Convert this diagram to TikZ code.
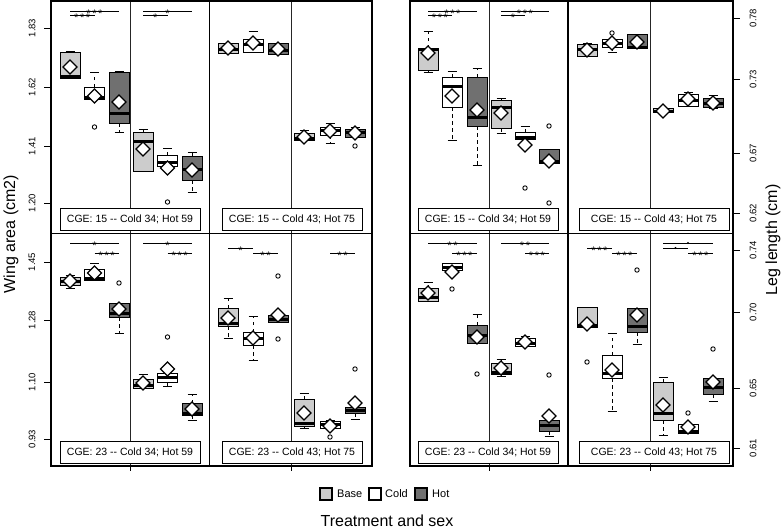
\documentclass[tikz,border=0pt]{standalone}
\usepackage{fontspec}
\setmainfont{Liberation Sans}
\definecolor{cbase}{RGB}{204,204,204}
\definecolor{chot}{RGB}{112,112,112}
\newcommand{\bx}[8]{%
  \draw[whisk] (#2,#4) -- (#2,#3);
  \draw[whisk] (#2,#6) -- (#2,#7);
  \draw[capl] (#2-4.5,#3) -- (#2+4.5,#3);
  \draw[capl] (#2-4.5,#7) -- (#2+4.5,#7);
  \draw[boxs,fill=#1] (#2-10,#4) rectangle (#2+10,#6);
  \draw[medl] (#2-10,#5) -- (#2+10,#5);
  \draw[diam] (#2,#8-7) -- (#2+7,#8) -- (#2,#8+7) -- (#2-7,#8) -- cycle;
}
\newcommand{\ol}[2]{\draw[outl] (#1,#2) circle (2.2);}
\newcommand{\sig}[4]{\draw[sigl] (#1,#3) -- (#2,#3); \node[stx] at ({(#1+#2)/2},#3+6.4) {#4};}
\newcommand{\sigd}[3]{\draw[sigl] (#1,#3) -- (#2,#3); \fill ({(#1+#2)/2},#3) circle (1.2);}
\newcommand{\sone}{*}
\newcommand{\stwo}{*\kern1.6pt*}
\newcommand{\sthree}{*\kern1.6pt*\kern1.6pt*}
\begin{document}
\begin{tikzpicture}[x=1pt,y=-1pt,
  blkframe/.style={line width=1.1pt},
  divl/.style={line width=0.6pt, black!85},
  whisk/.style={line width=0.8pt, dash pattern=on 3.5pt off 3.5pt},
  capl/.style={line width=0.9pt},
  boxs/.style={line width=0.7pt},
  medl/.style={line width=3pt},
  diam/.style={line width=1.2pt, fill=white, line join=miter},
  outl/.style={line width=0.9pt},
  sigl/.style={line width=0.6pt},
  stx/.style={font=\fontsize{11}{11}\selectfont, inner sep=0pt, anchor=base},
  cge/.style={draw, line width=0.7pt, fill=white},
  cgetxt/.style={font=\fontsize{10.5}{12}\selectfont, inner sep=0pt},
  tkl/.style={font=\fontsize{9.5}{11}\selectfont, inner sep=0pt, rotate=90},
  tk/.style={line width=0.8pt},
  axt/.style={font=\fontsize{16}{18}\selectfont, inner sep=0pt},
  lgs/.style={draw, line width=1.1pt},
  lgt/.style={font=\fontsize{11}{13}\selectfont, inner sep=0pt, anchor=west}]
\useasboundingbox (0,0) rectangle (783,530);

% ---- dividers
\foreach \xx in {130,291,489,650} {
  \draw[divl] (\xx,1) -- (\xx,466);
  \draw[tk] (\xx,466) -- (\xx,471);
}

% ---- CGE legend boxes
\draw[cge] (60,208) rectangle (200,230);
\node[cgetxt] (c1) at (130,219) {CGE: 15 -{}- Cold 34; Hot 59};
\draw[cge] (222,208) rectangle (362,230);
\node[cgetxt] (c2) at (292,219) {CGE: 15 -{}- Cold 43; Hot 75};
\draw[cge] (60,441) rectangle (200,463);
\node[cgetxt] (c3) at (130,452) {CGE: 23 -{}- Cold 34; Hot 59};
\draw[cge] (222,441) rectangle (362,463);
\node[cgetxt] (c4) at (292,452) {CGE: 23 -{}- Cold 43; Hot 75};
\draw[cge] (418,208) rectangle (558,230);
\node[cgetxt] (c5) at (488,219) {CGE: 15 -{}- Cold 34; Hot 59};
\draw[cge] (579,208) rectangle (729,230);
\node[cgetxt] (c6) at (654,219) {CGE: 15 -{}- Cold 43; Hot 75};
\draw[cge] (418,441) rectangle (558,463);
\node[cgetxt] (c7) at (488,452) {CGE: 23 -{}- Cold 34; Hot 59};
\draw[cge] (579,441) rectangle (729,463);
\node[cgetxt] (c8) at (654,452) {CGE: 23 -{}- Cold 43; Hot 75};

% ---- frames
\draw[blkframe] (51,1) rectangle (372,466);
\draw[blkframe] (209.5,1) -- (209.5,466);
\draw[blkframe] (51,233.5) -- (372,233.5);
\draw[blkframe] (410,1) rectangle (733,466);
\draw[blkframe] (568,1) -- (568,466);
\draw[blkframe] (410,233.5) -- (733,233.5);

% ---- left axis
\foreach \yy/\lab in {28/1.83,87/1.62,146/1.41,203/1.20,262/1.45,320/1.28,382/1.10,439/0.93} {
  \draw[tk] (51,\yy) -- (44,\yy);
  \node[tkl] at (32,\yy) {\lab};
}
% ---- right axis
\foreach \yy/\lab in {18/0.78,79/0.73,153/0.67,213/0.62,250/0.74,312/0.70,388/0.65,448/0.61} {
  \draw[tk] (733,\yy) -- (740,\yy);
  \node[tkl] at (753,\yy) {\lab};
}
\node[axt, rotate=90] (yl) at (11,234) {Wing area (cm2)};
\node[axt, rotate=90] (yr) at (773,240) {Leg length (cm)};

% ===== Block L, top-left panel
\bx{cbase}{70}{51}{52}{76.5}{78}{78}{67}
\bx{white}{94.5}{72}{87}{97.5}{99}{99}{96} \ol{94.5}{127}
\bx{chot}{119}{71}{72}{113}{123}{132}{102}
\bx{cbase}{143}{129}{132}{141}{171}{171}{149}
\bx{white}{167.5}{148}{155}{162}{166}{166}{168} \ol{167.5}{202}
\bx{chot}{192}{152}{156}{169}{180}{192}{170}
\sig{70}{119}{11}{\sthree}
\sig{70}{94.5}{15}{\sthree}
\sig{143}{192}{11}{\sone}
\sig{143}{167.5}{15}{\sone}

% ===== Block L, top-right panel
\bx{cbase}{228}{43}{43}{49}{53}{53}{48}
\bx{white}{253}{31}{39}{44}{52}{52}{43}
\bx{chot}{278}{43}{43}{50}{54}{54}{49}
\bx{cbase}{304}{130}{133}{138}{140}{140}{137}
\bx{white}{330}{123}{127}{130}{135}{143}{131}
\bx{chot}{355}{127}{129}{132}{137}{137}{133} \ol{355}{146}

% ===== Block L, bottom-left panel
\bx{cbase}{70}{275}{277}{281}{285}{288}{281}
\bx{white}{94.5}{263}{269}{278}{280}{280}{273}
\bx{chot}{119}{303}{303}{313.5}{317}{333}{309} \ol{119}{283}
\bx{cbase}{143}{374}{379}{385}{388}{388}{383}
\bx{white}{167.5}{373}{373}{377}{382}{386}{369} \ol{167.5}{337}
\bx{chot}{192}{394}{403}{413}{415}{420}{409}
\sig{70}{119}{243}{\sone}
\sig{94.5}{119}{253}{\sthree}
\sig{143}{192}{243}{\sone}
\sig{167.5}{192}{253}{\sthree}

% ===== Block L, bottom-right panel
\bx{cbase}{228}{298}{308}{323}{326}{338}{318}
\bx{white}{253}{316}{332}{338}{345}{360}{338}
\bx{chot}{278}{315}{315}{319}{322}{322}{315} \ol{278}{276} \ol{278}{339}
\bx{cbase}{304}{393}{399}{423.5}{426}{428}{413}
\bx{white}{330}{420}{421}{424}{428}{428}{426} \ol{330}{437}
\bx{chot}{355}{407}{407}{410}{413}{419}{403} \ol{355}{369}
\sig{228}{253}{248}{\sone}
\sig{253}{278}{253}{\stwo}
\sig{330}{355}{253}{\stwo}

% ===== Block R, top-left panel
\bx{cbase}{428}{31}{48}{49.5}{70}{72}{53}
\bx{white}{452}{71}{77}{86}{107}{140}{96}
\bx{chot}{477}{68}{77}{117}{126}{165}{110}
\bx{cbase}{501}{98}{100}{107}{128}{133}{113}
\bx{white}{525}{126}{132}{137}{139}{139}{145} \ol{525}{188}
\bx{chot}{549}{149}{149}{161.5}{163}{163}{161} \ol{549}{126} \ol{549}{203}
\sig{428}{477}{11}{\sthree}
\sig{428}{452}{15}{\sthree}
\sig{501}{549}{11}{\sthree}
\sig{501}{525}{15}{\sone}

% ===== Block R, top-right panel
\bx{cbase}{587}{43}{44}{49}{56}{56}{50}
\bx{white}{612}{39}{39}{43}{47}{52}{43} \ol{612}{33}
\bx{chot}{637}{34}{34}{47}{48}{48}{42}
\bx{cbase}{663}{108}{108}{111}{112}{112}{111}
\bx{white}{688}{92}{94}{100}{106}{106}{99}
\bx{chot}{713}{95}{98}{103}{107}{108}{103}

% ===== Block R, bottom-left panel
\bx{cbase}{428}{282}{288}{297}{301}{301}{293}
\bx{white}{452}{263}{263}{267}{270}{270}{272} \ol{452}{289}
\bx{chot}{477}{314}{325}{335}{343}{343}{337} \ol{477}{374}
\bx{cbase}{501}{359}{363}{372}{374}{376}{368}
\bx{white}{525}{336}{338}{343}{346}{346}{342}
\bx{chot}{549}{420}{420}{425}{431}{436}{416} \ol{549}{375}
\sig{428}{477}{243}{\stwo}
\sig{452}{477}{253}{\sthree}
\sig{501}{549}{243}{\stwo}
\sig{525}{549}{253}{\sthree}

% ===== Block R, bottom-right panel
\bx{cbase}{587}{307}{307}{325}{327}{327}{324} \ol{587}{362}
\bx{white}{612}{333}{355}{373}{378}{411}{370}
\bx{chot}{637}{308}{308}{326}{332}{344}{315} \ol{637}{270}
\bx{cbase}{663}{377}{382}{413}{420}{435}{405}
\bx{white}{688}{424}{424}{431.5}{433}{433}{427} \ol{688}{413}
\bx{chot}{713}{378}{378}{387}{394}{401}{382} \ol{713}{349}
\sig{587}{612}{248}{\sthree}
\sig{612}{637}{253}{\sthree}
\sigd{663}{713}{243}
\sigd{663}{688}{248}
\sig{688}{713}{253}{\sthree}

% ---- bottom legend
\draw[lgs, fill=cbase] (320,488) rectangle (332,500);
\node[lgt] (lb) at (337,494) {Base};
\draw[lgs, fill=white] (369,488) rectangle (381,500);
\node[lgt] (lc) at (385,494) {Cold};
\draw[lgs, fill=chot] (415,488) rectangle (427,500);
\node[lgt] (lh) at (432,494) {Hot};
\node[axt] (xt) at (387,521) {Treatment and sex};
\end{tikzpicture}
\end{document}
